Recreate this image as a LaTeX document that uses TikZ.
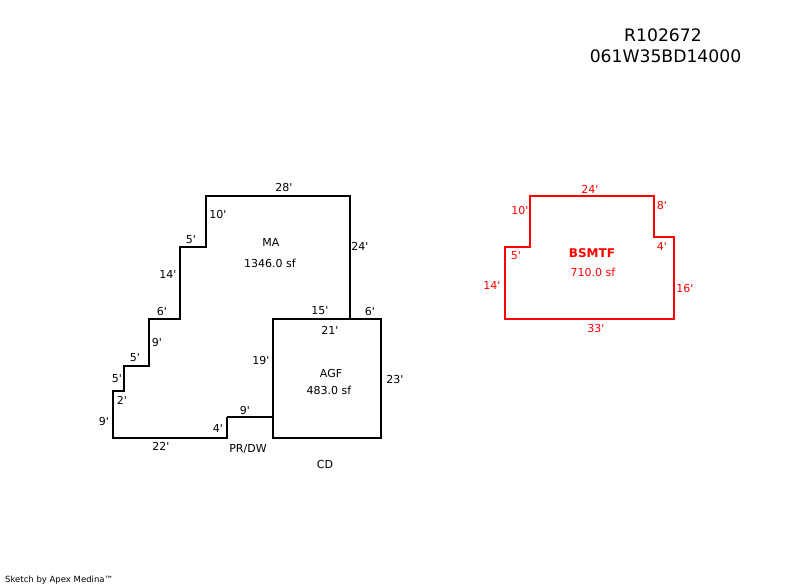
\documentclass[tikz,border=0pt]{standalone}
\usepackage{fontspec}
\newfontfamily\sketchfont{DejaVu Sans}
\tikzstyle{wall} = [draw,line width=2.4pt,line join=miter]
\tikzstyle{redwall} = [wall,color=red]
\tikzstyle{dim} = [inner sep=0pt,font=\sketchfont\fontsize{11}{13}\selectfont]
\tikzstyle{reddim} = [dim,text=red]
\tikzstyle{title} = [inner sep=0pt,font=\sketchfont\fontsize{17.2}{20}\selectfont]
\begin{document}
\begin{tikzpicture}[x=1pt,y=-1pt]
    \useasboundingbox (0,0) rectangle (800,587);
    % First we draw the corners
    \foreach \pos/\name in {{(113,438)/a1}, {(113,391)/a2}, {(124,391)/a3}, {(124,366)/a4}, {(149,366)/a5}, {(149,319)/a6}, {(180,319)/a7}, {(180,247)/a8}, {(206,247)/a9}, {(206,196)/a10}, {(350,196)/a11}, {(350,319)/a12}, {(227,438)/a13}, {(227,417)/a14}, {(273,417)/a15}}
        \path \pos coordinate (\name);
    \foreach \pos/\name in {{(273,319)/g1}, {(381,319)/g2}, {(381,438)/g3}, {(273,438)/g4}}
        \path \pos coordinate (\name);
    \foreach \pos/\name in {{(505,319)/b1}, {(505,247)/b2}, {(530,247)/b3}, {(530,196)/b4}, {(654,196)/b5}, {(654,237)/b6}, {(674,237)/b7}, {(674,319)/b8}}
        \path \pos coordinate (\name);

    % Connect corners with walls
    \path[wall] (a14) -- (a13) -- (a1) -- (a2) -- (a3) -- (a4) -- (a5) -- (a6) -- (a7) -- (a8) -- (a9) -- (a10) -- (a11) -- (a12);
    \path[wall] (a14) -- (a15);
    \path[wall] (g1) -- (g2) -- (g3) -- (g4) -- cycle;
    \path[redwall] (b1) -- (b2) -- (b3) -- (b4) -- (b5) -- (b6) -- (b7) -- (b8) -- cycle;

    % Lengths and area labels
    \foreach \pos/\name/\txt in {{(284,187.5)/d1/28'}, {(218,214)/d2/10'}, {(191,240)/d3/5'}, {(360,246)/d4/24'}, {(168,274)/d5/14'}, {(162,311)/d6/6'}, {(320,311)/d7/15'}, {(370,311)/d8/6'}, {(330,330)/d9/21'}, {(157,342)/d10/9'}, {(135,358)/d11/5'}, {(261,360)/d12/19'}, {(395,379)/d13/23'}, {(117,379)/d14/5'}, {(122,400)/d15/2'}, {(104,421)/d16/9'}, {(245,410)/d17/9'}, {(218,428)/d18/4'}, {(161,446)/d19/22'}, {(271,242)/ma/MA}, {(270,263)/masf/1346.0 sf}, {(331,373)/agf/AGF}, {(329,390)/agfsf/483.0 sf}, {(248,449)/prdw/PR\slash DW}, {(325,464)/cd/CD}}
        \node[dim] (\name) at \pos {\txt};
    \foreach \pos/\name/\txt in {{(590,189)/r1/24'}, {(520,210)/r2/10'}, {(662,205)/r3/8'}, {(516,256)/r4/5'}, {(662,246)/r5/4'}, {(492,285)/r6/14'}, {(685,288)/r7/16'}, {(596,328)/r8/33'}, {(593,272)/bsf/710.0 sf}}
        \node[reddim] (\name) at \pos {\txt};
    \node[reddim,font=\sketchfont\bfseries\fontsize{12}{14}\selectfont] (bsmtf) at (592,253) {BSMTF};

    \node[title] (parcel) at (663,35) {R102672};
    \node[title] (account) at (665.5,56) {061W35BD14000};
    \node[inner sep=0pt,anchor=west,font=\sketchfont\fontsize{8.5}{10}\selectfont] (credit) at (5,580.5) {Sketch by Apex Medina™};
\end{tikzpicture}
\end{document}
